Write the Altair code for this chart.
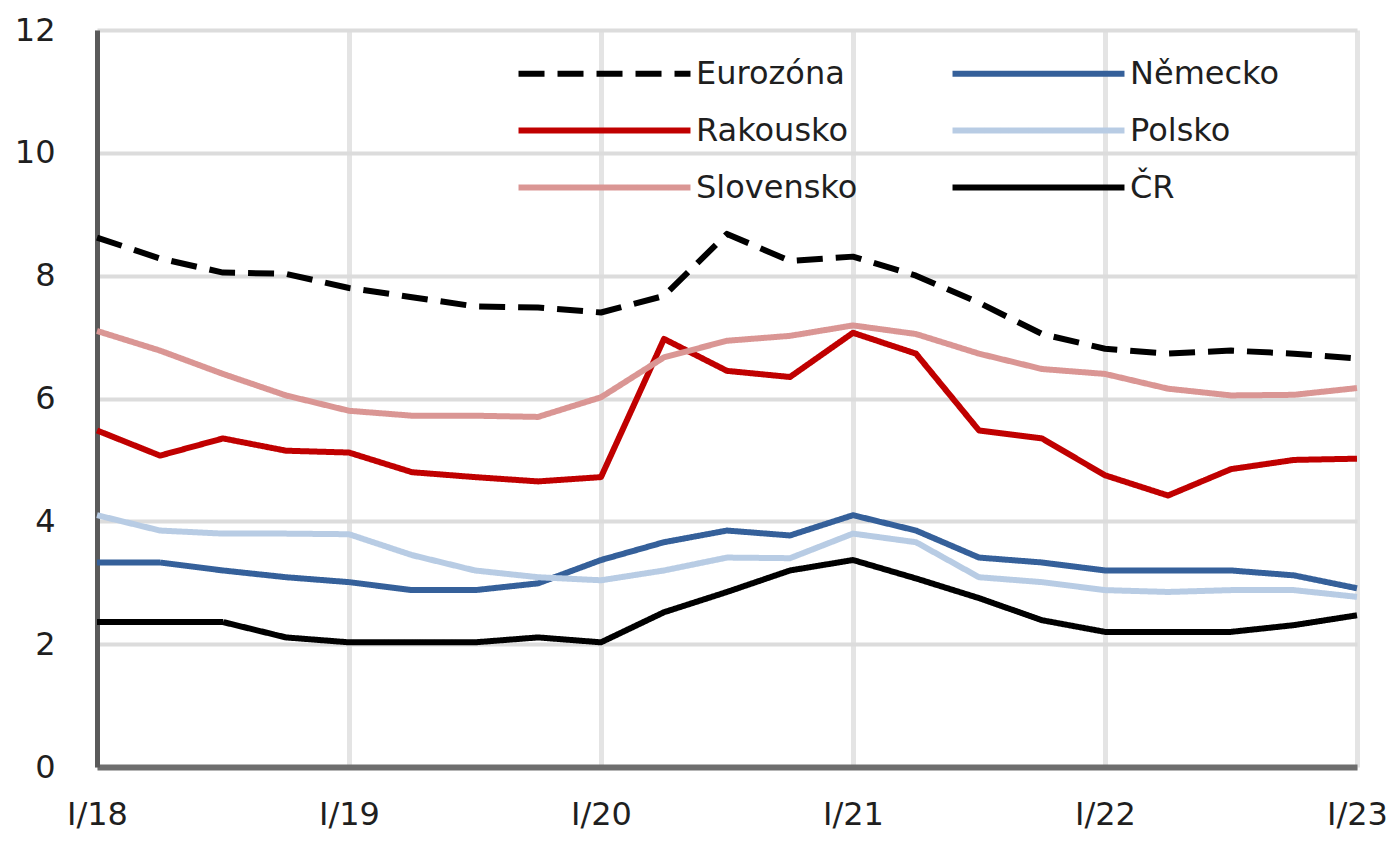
import altair as alt
import pandas as pd

quarters = [
    "I/18", "II/18", "III/18", "IV/18",
    "I/19", "II/19", "III/19", "IV/19",
    "I/20", "II/20", "III/20", "IV/20",
    "I/21", "II/21", "III/21", "IV/21",
    "I/22", "II/22", "III/22", "IV/22",
    "I/23",
]

# legend is laid out column by column: left column first, then right column
series_names = ["Eurozóna", "Rakousko", "Slovensko", "Německo", "Polsko", "ČR"]

eurozona = [8.62, 8.28, 8.05, 8.03, 7.80, 7.65, 7.50, 7.48, 7.40, 7.67, 8.68,
            8.24, 8.31, 8.00, 7.56, 7.05, 6.81, 6.73, 6.78, 6.73, 6.65]
rakousko = [5.48, 5.07, 5.35, 5.15, 5.12, 4.80, 4.72, 4.65, 4.72, 6.97, 6.45,
            6.35, 7.07, 6.73, 5.48, 5.35, 4.75, 4.42, 4.85, 5.00, 5.02]
slovensko = [7.10, 6.78, 6.40, 6.05, 5.80, 5.72, 5.72, 5.70, 6.02, 6.67, 6.94,
             7.02, 7.19, 7.05, 6.73, 6.48, 6.40, 6.16, 6.05, 6.06, 6.17]
nemecko = [3.33, 3.33, 3.20, 3.09, 3.01, 2.88, 2.88, 2.99, 3.37, 3.66, 3.85,
           3.77, 4.10, 3.85, 3.41, 3.33, 3.20, 3.20, 3.20, 3.12, 2.91]
polsko = [4.10, 3.85, 3.80, 3.80, 3.79, 3.45, 3.20, 3.09, 3.04, 3.20, 3.41,
          3.40, 3.80, 3.66, 3.09, 3.01, 2.88, 2.85, 2.88, 2.88, 2.77]
cr = [2.36, 2.36, 2.36, 2.11, 2.03, 2.03, 2.03, 2.11, 2.03, 2.52, 2.85,
      3.20, 3.37, 3.07, 2.75, 2.39, 2.20, 2.20, 2.20, 2.31, 2.47]

series_values = [eurozona, rakousko, slovensko, nemecko, polsko, cr]
series_colors = ["#000000", "#C00000", "#DA9694", "#35609A", "#B8CCE4", "#000000"]
series_dashes = [[26, 13], [1, 0], [1, 0], [1, 0], [1, 0], [1, 0]]

y_ticks = [0, 2, 4, 6, 8, 10, 12]
x_ticks = [q for q in quarters if q.startswith("I/")]

rows = []
for name, vals in zip(series_names, series_values):
    for q, v in zip(quarters, vals):
        rows.append({"quarter": q, "value": v, "series": name})
df = pd.DataFrame(rows)

FONT = "DejaVu Sans"
TEXT = "#1f1f1f"
FS = 32

legend = alt.Legend(
    title=None,
    orient="none",
    legendX=421,
    legendY=23,
    columns=2,
    symbolType="M-5,0H5",
    symbolSize=1183,
    symbolStrokeWidth=6,
    symbolOffset=66,
    labelOffset=71,
    labelLimit=400,
    columnPadding=82,
    rowPadding=20,
    labelFont=FONT,
    labelFontSize=FS,
    labelColor=TEXT,
)

chart = (
    alt.Chart(df)
    .mark_line(strokeWidth=6, strokeCap="butt", strokeJoin="round")
    .encode(
        x=alt.X(
            "quarter:O",
            sort=quarters,
            scale=alt.Scale(type="point", padding=0),
            axis=alt.Axis(
                values=x_ticks,
                title=None,
                labelAngle=0,
                ticks=False,
                labelPadding=32,
                grid=True,
                gridColor="#e4e4e4",
                gridWidth=5,
                domainColor="#6e6e6e",
                domainWidth=6,
                labelFont=FONT,
                labelFontSize=FS,
                labelColor=TEXT,
            ),
        ),
        y=alt.Y(
            "value:Q",
            scale=alt.Scale(domain=[0, 12], nice=False),
            axis=alt.Axis(
                values=y_ticks,
                title=None,
                ticks=False,
                labelPadding=42,
                grid=True,
                gridColor="#dcdcdc",
                gridWidth=4,
                domainColor="#5a5a5a",
                domainWidth=5,
                labelFont=FONT,
                labelFontSize=FS,
                labelColor=TEXT,
            ),
        ),
        color=alt.Color(
            "series:N",
            sort=series_names,
            scale=alt.Scale(domain=series_names, range=series_colors),
            legend=legend,
        ),
        strokeDash=alt.StrokeDash(
            "series:N",
            sort=series_names,
            scale=alt.Scale(domain=series_names, range=series_dashes),
            legend=legend,
        ),
    )
    .properties(
        width=1260,
        height=737,
        autosize=alt.AutoSizeParams(type="none"),
        padding={"left": 89, "top": 22, "right": 30, "bottom": 68},
    )
    .configure_view(stroke=None)
)

chart.save("out.html", embed_options={"renderer": "svg", "actions": False})
